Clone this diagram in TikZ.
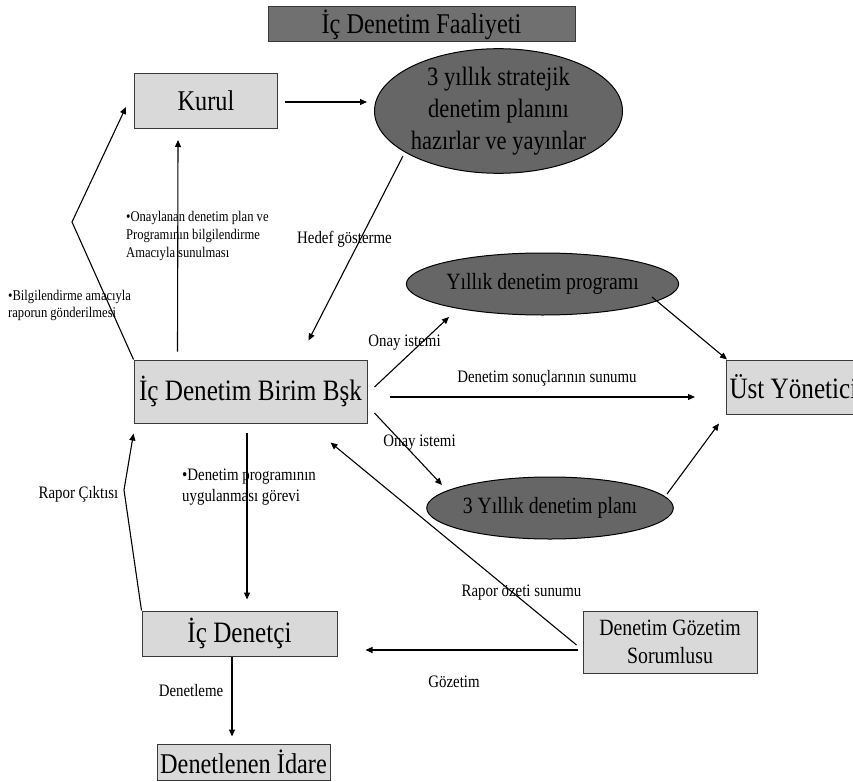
\documentclass[tikz,border=0pt]{standalone}
\usepackage{fontspec}
\setmainfont{Liberation Serif}[FakeStretch=0.85]
\usetikzlibrary{arrows.meta,shapes.geometric,calc}
\definecolor{lightbox}{HTML}{D9D9D9}
\definecolor{darkell}{HTML}{666666}
\definecolor{titlefill}{HTML}{707070}
\definecolor{edge}{HTML}{3A3A3A}
\newcommand{\fs}[2]{\fontsize{#1}{#2}\selectfont}
\begin{document}
\begin{tikzpicture}[x=1pt,y=-1pt,
  box/.style={draw=edge,line width=1pt,fill=lightbox,inner sep=0pt,text=black},
  ell/.style={ellipse,draw=black,line width=1pt,fill=darkell,inner sep=0pt,text=black},
  arr/.style={draw=black,line width=1.1pt,-{Triangle[length=7pt,width=6pt]}},
  lbl/.style={inner sep=0pt,text=black,font=\fs{17.5}{20}},
  small/.style={inner sep=0pt,text=black,align=left},
]
\useasboundingbox (0,0) rectangle (853,781);
\clip (0,0) rectangle (853,781);
% nodes
\node[box,fill=titlefill,minimum width=307,minimum height=35,font=\fs{28.6}{32}] (title) at (421.5,24.5) {İç Denetim Faaliyeti};
\node[box,minimum width=143,minimum height=55,font=\fs{28.6}{32}] (kurul) at (206,101) {Kurul};
\node[ell,minimum width=248,minimum height=108,align=center,font=\fs{26.5}{32}] (strat) at (498.5,111) {3 yıllık stratejik\\denetim planını\\hazırlar ve yayınlar};
\node[box,minimum width=233,minimum height=63,font=\fs{29.6}{32}] (idbb) at (250.5,391.5) {İç Denetim Birim Bşk};
\node[ell,minimum width=231,minimum height=62,font=\fs{23.3}{26}] (yillik) at (542.5,284) {Yıllık denetim programı};
\node[box,anchor=west,inner xsep=3pt,minimum height=54,font=\fs{29.6}{32}] (ust) at (726,387) {Üst Yönetici};
\node[ell,minimum width=234,minimum height=62,font=\fs{23.3}{26}] (plan3) at (550,508) {3 Yıllık denetim planı};
\node[box,minimum width=174,minimum height=62,align=center,font=\fs{23.3}{28}] (dgs) at (670,642) {Denetim Gözetim\\Sorumlusu};
\node[box,minimum width=195,minimum height=45,font=\fs{29.6}{32}] (icd) at (239.5,633.5) {İç Denetçi};
\node[box,minimum width=173,minimum height=36,font=\fs{28.6}{32}] (di) at (243.5,762) {Denetlenen İdare};
% connectors
\draw[arr] ([shift={(7,1)}]kurul.east) -- ([shift={(-7,-9)}]strat.west);
\draw[arr] ([shift={(44,-8)}]idbb.north west) -- ([shift={(-28,11)}]kurul.south);
\draw[arr] (idbb.north west) -- (72,222) -- ([shift={(-8,6)}]kurul.west);
\draw[arr] ([shift={(-95.5,45)}]strat.center) -- ([shift={(-59,-19)}]idbb.north east);
\draw[arr] ([shift={(7,-4.5)}]idbb.east) -- ([shift={(-93.5,33)}]yillik.center);
\draw[arr] ([shift={(22,5.5)}]idbb.east) -- ([shift={(-31,10)}]ust.west);
\draw[arr] ([shift={(109.5,13)}]yillik.center) -- ([shift={(1,0)}]ust.north west);
\draw[arr] ([shift={(7,21.5)}]idbb.east) -- ([shift={(-108,-23)}]plan3.center);
\draw[arr] ([shift={(117,-14)}]plan3.center) -- ([shift={(-7,9)}]ust.south west);
\draw[arr] ([shift={(-6,3)}]dgs.west) -- ([shift={(-37,19)}]idbb.south east);
\draw[arr] ([shift={(-5,8)}]dgs.west) -- ([shift={(28,16.5)}]icd.east);
\draw[arr] ([shift={(-3.5,9)}]idbb.south) -- ([shift={(7.5,-11)}]icd.north);
\draw[arr] (icd.north west) -- (124,490) -- ([shift={(0,10)}]idbb.south west);
\draw[arr] ([shift={(-7.5,0)}]icd.south) -- ([shift={(-11.5,-7)}]di.north);
% labels
\node[small,anchor=west,font=\fs{14.8}{18}] (l1) at (126,236) {•Onaylanan denetim plan ve\\Programının bilgilendirme\\Amacıyla sunulması};
\node[small,anchor=west,font=\fs{14.8}{17}] (l2) at (8,305.5) {•Bilgilendirme amacıyla\\raporun gönderilmesi};
\node[lbl] (l3) at (344.5,239) {Hedef gösterme};
\node[lbl] (l4) at (404.5,343) {Onay istemi};
\node[lbl] (l5) at (547,378) {Denetim sonuçlarının sunumu};
\node[lbl] (l6) at (419.5,443) {Onay istemi};
\node[small,anchor=west,font=\fs{17.5}{21}] (l7) at (182,487.5) {•Denetim programının\\uygulanması görevi};
\node[lbl] (l8) at (78.5,494) {Rapor Çıktısı};
\node[lbl] (l9) at (521.5,593) {Rapor özeti sunumu};
\node[lbl] (l10) at (454,682) {Gözetim};
\node[lbl] (l11) at (191,691) {Denetleme};
\end{tikzpicture}
\end{document}
